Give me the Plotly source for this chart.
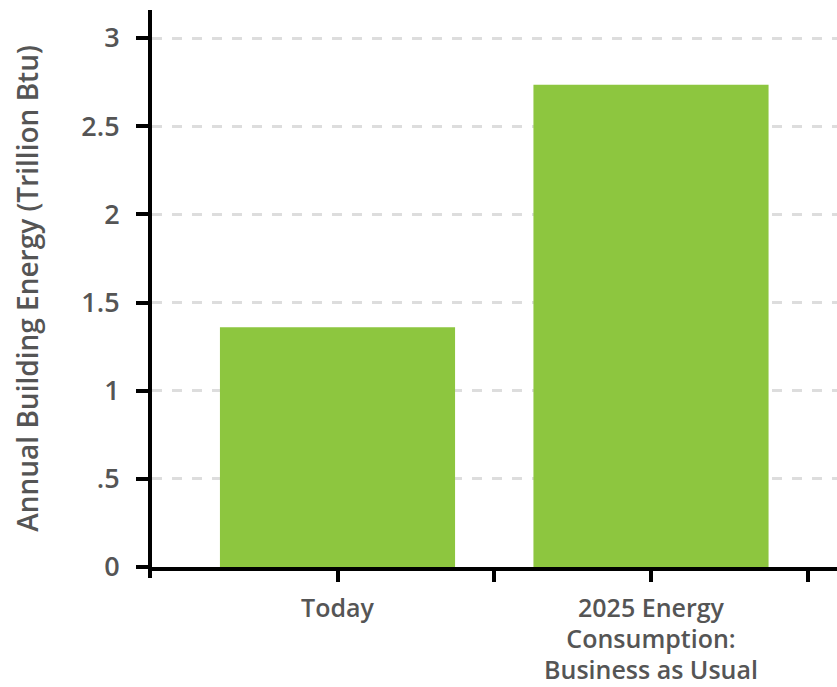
import plotly.graph_objects as go

categories = ["Today", "2025 Energy<br>Consumption:<br>Business as Usual"]
values = [1.36, 2.735]
y_tickvals = [0, 0.5, 1, 1.5, 2, 2.5, 3]
y_ticktext = ["0", ".5", "1", "1.5", "2", "2.5", "3"]
y_title = "Annual Building Energy (Trillion Btu)"

BAR_COLOR = "#8dc63f"
TEXT_COLOR = "#555555"
FONT = "Open Sans"
XLABEL_PX = 25

xpos = list(range(len(categories)))
boundaries = [i + 0.5 for i in xpos]
x_range = [-0.5917, len(categories) - 1 + 0.5933]
y_range = [0, 3.159]

# glyph size vs. line spacing (spacing follows the outer tick font size)
x_ticktext = [
    "<br>".join(f"<span style='font-size:{XLABEL_PX}px'>{ln}</span>" for ln in c.split("<br>"))
    for c in categories
]

fig = go.Figure()
fig.add_trace(go.Bar(
    x=xpos, y=values, width=0.75,
    marker=dict(color=BAR_COLOR, line=dict(width=0)),
    hoverinfo="skip", showlegend=False,
))

fig.update_layout(
    width=837, height=687,
    margin=dict(l=152, r=0, t=10, b=120, pad=0),
    paper_bgcolor="white", plot_bgcolor="white",
    font=dict(family=FONT, color=TEXT_COLOR, size=24, weight=600),
    xaxis=dict(
        type="linear", range=x_range,
        tickmode="array",
        tickvals=xpos + boundaries,
        ticktext=x_ticktext + [""] * len(boundaries),
        ticks="outside", ticklen=11, tickwidth=4, tickcolor="black",
        showline=True, linewidth=4, linecolor="black",
        showgrid=False, zeroline=False,
        tickfont=dict(family=FONT, size=24, color=TEXT_COLOR, weight=600),
        ticklabelstandoff=6,
        automargin=False,
        fixedrange=True,
    ),
    xaxis2=dict(
        type="linear", range=x_range, overlaying="x", anchor="y", side="bottom",
        tickmode="array", tickvals=boundaries,
        ticks="inside", ticklen=8, tickwidth=4, tickcolor="black",
        showticklabels=False, showline=False, showgrid=False, zeroline=False,
        automargin=False,
    ),
    yaxis=dict(
        range=y_range,
        tickmode="array", tickvals=y_tickvals, ticktext=y_ticktext,
        ticks="outside", ticklen=12, tickwidth=4, tickcolor="black",
        showline=True, linewidth=4, linecolor="black",
        showgrid=True, gridcolor="#dddddd", gridwidth=3, griddash="10px,10px",
        zeroline=False,
        tickfont=dict(family=FONT, size=27, color=TEXT_COLOR, weight=600),
        ticklabelstandoff=11,
        title=dict(text=y_title, font=dict(family=FONT, size=28, color=TEXT_COLOR, weight=600), standoff=36),
        automargin=False,
    ),
    yaxis2=dict(
        range=y_range, overlaying="y", anchor="x", side="left",
        tickmode="array", tickvals=y_tickvals,
        ticks="inside", ticklen=8, tickwidth=4, tickcolor="black",
        showticklabels=False, showline=False, showgrid=False, zeroline=False,
        automargin=False,
    ),
    shapes=[dict(
        type="line", xref="paper", yref="paper",
        xsizemode="pixel", xanchor=0, x0=-2, x1=-2,
        ysizemode="pixel", yanchor=0, y0=0, y1=-11,
        line=dict(color="black", width=4),
    )],
)

fig.write_html("out.html")
